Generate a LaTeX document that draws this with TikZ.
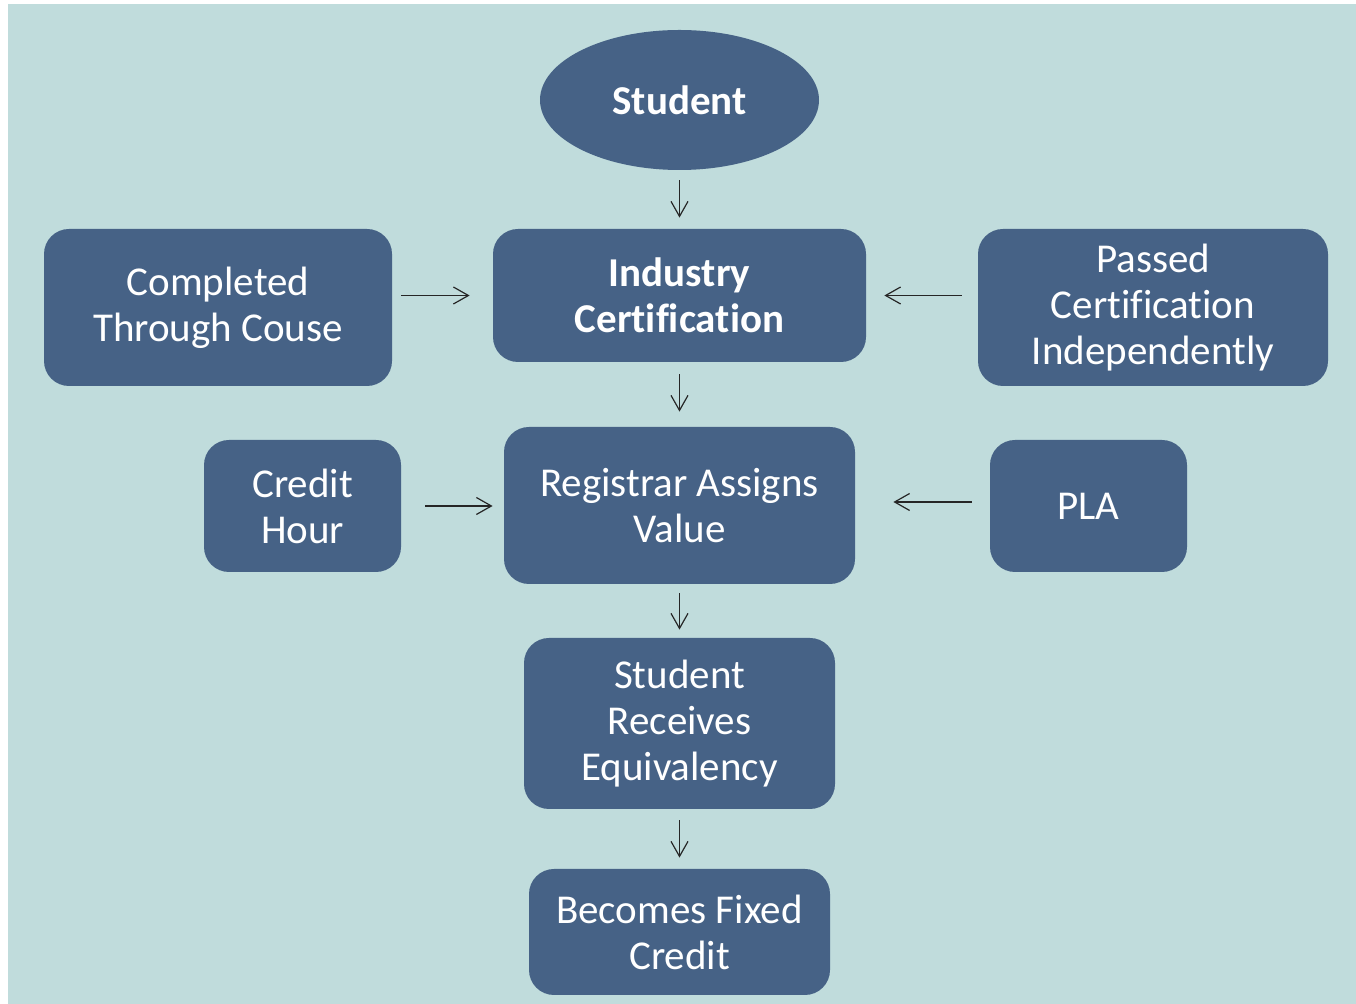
\documentclass[tikz,border=0pt]{standalone}
\usepackage{fontspec}
\setmainfont{Carlito}[Ligatures=NoCommon]
\usetikzlibrary{arrows.meta,shapes.geometric}
\definecolor{bgteal}{HTML}{C0DCDC}
\definecolor{boxblue}{HTML}{466286}

\begin{document}
\begin{tikzpicture}[x=0.5pt, y=-0.5pt,
	every node/.style={font=\fontsize{20.5}{23}\selectfont, text=white, align=center},
	box/.style={rectangle, rounded corners=12.5pt, fill=boxblue, inner sep=0pt},
	link/.style={-{Straight Barb[length=7.5pt,width=8.5pt]}, line width=0.6pt, draw=black!85}]

			% Background
			\fill[white] (0,0) rectangle (1356,1004);
			\fill[bgteal] (8,4) rectangle (1356,1004);
			\useasboundingbox (0,0) rectangle (1356,1004);

			% Nodes
			\node[ellipse, fill=boxblue, minimum width=139.5pt, minimum height=70pt, font=\fontsize{20.5}{23}\selectfont\bfseries] (student) at (679.5,100) {Student};
			\node[box, minimum width=186.5pt, minimum height=66.5pt, font=\fontsize{20.5}{23}\selectfont\bfseries] (cert) at (679.5,295.5) {Industry\\Certification};
			\node[box, minimum width=174pt, minimum height=78.5pt] (course) at (218,307.5) {Completed\\Through Couse};
			\node[box, minimum width=175pt, minimum height=78.5pt] (indep) at (1153,307.5) {Passed\\Certification\\Independently};
			\node[box, minimum width=98.5pt, minimum height=66pt] (hour) at (302.5,506) {Credit\\Hour};
			\node[box, minimum width=175.5pt, minimum height=78.5pt] (registrar) at (679.5,505.5) {Registrar Assigns\\Value};
			\node[box, minimum width=98.5pt, minimum height=66pt] (pla) at (1088.5,506) {PLA};
			\node[box, minimum width=155.5pt, minimum height=85.5pt] (equiv) at (679.5,723.5) {Student\\Receives\\Equivalency};
			\node[box, minimum width=150.5pt, minimum height=63pt] (fixed) at (679.5,932) {Becomes Fixed\\Credit};

			% Links
			\draw[link, shorten <=5pt, shorten >=5.5pt] (student) -- (cert);
			\draw[link, shorten <=4.5pt, shorten >=11.5pt] (course.east |- cert) -- (cert.west);
			\draw[link, shorten <=8pt, shorten >=9pt] (indep.west |- cert) -- (cert.east);
			\draw[link, shorten <=6pt, shorten >=7.5pt] (cert) -- (registrar);
			\draw[link, shorten <=12pt, shorten >=5.5pt] (hour.east) -- (registrar.west |- hour);
			\draw[link, shorten <=9pt, shorten >=19pt] ([yshift=2pt]pla.west) -- ([yshift=2pt]registrar.east |- pla);
			\draw[link, shorten <=4.5pt, shorten >=4pt] (registrar) -- (equiv);
			\draw[link, shorten <=5.5pt, shorten >=5.5pt] (equiv) -- (fixed);
		\end{tikzpicture}
\end{document}
